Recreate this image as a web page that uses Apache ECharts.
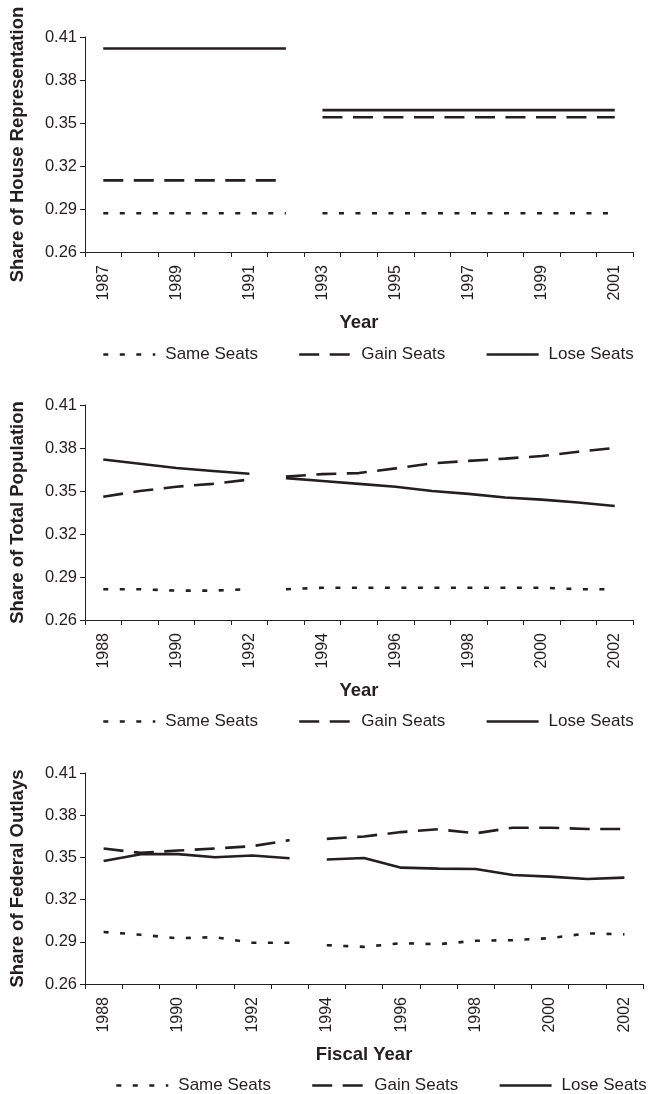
<!DOCTYPE html>
<html>
<head>
<meta charset="utf-8">
<script src="https://cdn.jsdelivr.net/npm/echarts@6/dist/echarts.min.js"></script>
<style>
html,body{margin:0;padding:0;background:#fff;}
#c{width:650px;height:1094px;}
</style>
</head>
<body>
<div id="c"></div>
<script>
// ---- categories ----
const houseYears = ['1987','1988','1989','1990','1991','1992','1993','1994','1995','1996','1997','1998','1999','2000','2001'];
const popYears = ['1988','1989','1990','1991','1992','1993','1994','1995','1996','1997','1998','1999','2000','2001','2002'];
const outlayYears = ['1988','1989','1990','1991','1992','1993','1994','1995','1996','1997','1998','1999','2000','2001','2002'];

// ---- series values ----
const houseSame = [0.287,0.287,0.287,0.287,0.287,0.287,0.287,0.287,0.287,0.287,0.287,0.287,0.287,0.287,0.287];
const houseGain = [0.310,0.310,0.310,0.310,0.310,0.310,0.354,0.354,0.354,0.354,0.354,0.354,0.354,0.354,0.354];
const houseLose = [0.402,0.402,0.402,0.402,0.402,0.402,0.359,0.359,0.359,0.359,0.359,0.359,0.359,0.359,0.359];
const houseBreak = 6; // first index of second segment (1993)

const popSame = [0.2815,0.2815,0.2805,0.2805,0.2815,0.2815,0.2825,0.2825,0.2825,0.2825,0.2825,0.2825,0.2825,0.2815,0.2815];
const popGain = [0.346,0.350,0.353,0.355,0.358,0.360,0.3618,0.3625,0.3658,0.3693,0.371,0.3726,0.3744,0.3774,0.380];
const popLose = [0.372,0.369,0.366,0.364,0.362,0.359,0.357,0.355,0.353,0.350,0.348,0.3455,0.344,0.342,0.3395];
const popBreak = 5; // 1993

const outSame = [0.297,0.295,0.2925,0.2933,0.2893,0.2893,0.2876,0.2864,0.289,0.2883,0.2907,0.2912,0.2926,0.296,0.2953];
const outGain = [0.3563,0.3532,0.3549,0.3563,0.358,0.3623,0.3632,0.3649,0.368,0.370,0.3671,0.3711,0.3711,0.3702,0.3702];
const outLose = [0.3475,0.3523,0.3523,0.3501,0.3513,0.3494,0.3485,0.3496,0.3427,0.342,0.3418,0.3375,0.3363,0.3346,0.3356];
const outBreak = 6; // 1994

// ---- tick labels / names ----
const yTicks = [0.26,0.29,0.32,0.35,0.38,0.41];
const seriesNames = ['Same Seats','Gain Seats','Lose Seats'];
const yTitles = ['Share of House Representation','Share of Total Population','Share of Federal Outlays'];
const xTitles = ['Year','Year','Fiscal Year'];

// ---- styles ----
const FONT = "'Liberation Sans', Arial, Helvetica, sans-serif";
const INK = '#231f20';
const lineStyles = {
  'Same Seats': {color: INK, width: 2.6, type: [5, 11.5], cap: 'butt'},
  'Gain Seats': {color: INK, width: 2.6, type: [20, 10.5], cap: 'butt'},
  'Lose Seats': {color: INK, width: 2.6, type: 'solid', cap: 'butt'}
};

const panels = [
  {cats: houseYears, data: [houseSame, houseGain, houseLose], brk: houseBreak, grid: {left: 84, top: 37, width: 549, height: 215}},
  {cats: popYears, data: [popSame, popGain, popLose], brk: popBreak, grid: {left: 84, top: 405, width: 549, height: 215}},
  {cats: outlayYears, data: [outSame, outGain, outLose], brk: outBreak, grid: {left: 84, top: 773, width: 559, height: 211}}
];

const grid = [], xAxis = [], yAxis = [], series = [];
panels.forEach((p, gi) => {
  grid.push(p.grid);
  xAxis.push({
    type: 'category', gridIndex: gi, data: p.cats, boundaryGap: true,
    name: xTitles[gi], nameLocation: 'middle', nameGap: 61,
    nameTextStyle: {fontFamily: FONT, fontWeight: 'bold', fontSize: 18.5, color: INK},
    axisLine: {show: true, lineStyle: {color: INK, width: 1}},
    axisTick: {show: true, interval: 0, length: 5, inside: false, alignWithLabel: false, lineStyle: {color: INK, width: 1}},
    axisLabel: {interval: 1, rotate: 90, margin: 13, fontFamily: FONT, fontSize: 16, color: INK},
    splitLine: {show: false}
  });
  yAxis.push({
    type: 'value', gridIndex: gi, min: yTicks[0], max: yTicks[yTicks.length - 1],
    name: yTitles[gi], nameLocation: 'middle', nameGap: 58,
    nameTextStyle: {fontFamily: FONT, fontWeight: 'bold', fontSize: 18.5, color: INK},
    axisLine: {show: true, lineStyle: {color: INK, width: 1}},
    axisTick: {show: true, length: 5, customValues: yTicks, lineStyle: {color: INK, width: 1}},
    axisLabel: {customValues: yTicks, margin: 8, fontFamily: FONT, fontSize: 16.5, color: INK,
      formatter: v => Number(v).toFixed(2)},
    splitLine: {show: false}
  });
  seriesNames.forEach((nm, si) => {
    const vals = p.data[si];
    const segA = vals.map((v, i) => i < p.brk ? v : null);
    const segB = vals.map((v, i) => i >= p.brk ? v : null);
    [segA, segB].forEach(seg => {
      series.push({
        type: 'line', name: nm, xAxisIndex: gi, yAxisIndex: gi, data: seg,
        symbol: 'none', showSymbol: false, connectNulls: false, smooth: false,
        lineStyle: lineStyles[nm], itemStyle: {color: INK},
        emphasis: {disabled: true}, silent: true, z: 3 - si
      });
    });
  });
});

const legendBase = {
  orient: 'horizontal', itemWidth: 52, itemHeight: 14, itemGap: 40,
  width: 620,
  itemStyle: {opacity: 0},
  data: seriesNames.map(n => ({name: n, lineStyle: lineStyles[n]})),
  textStyle: {fontFamily: FONT, fontSize: 17, color: INK, padding: [0, 0, 0, 5]},
  selectedMode: false
};
const legend = [
  Object.assign({}, legendBase, {left: 97, top: 341}),
  Object.assign({}, legendBase, {left: 97, top: 708}),
  Object.assign({}, legendBase, {left: 110, top: 1072})
];

const chart = echarts.init(document.getElementById('c'), null, {renderer: 'canvas'});
chart.setOption({
  backgroundColor: '#ffffff',
  animation: false,
  textStyle: {fontFamily: FONT},
  legend, grid, xAxis, yAxis, series
});
</script>
</body>
</html>
